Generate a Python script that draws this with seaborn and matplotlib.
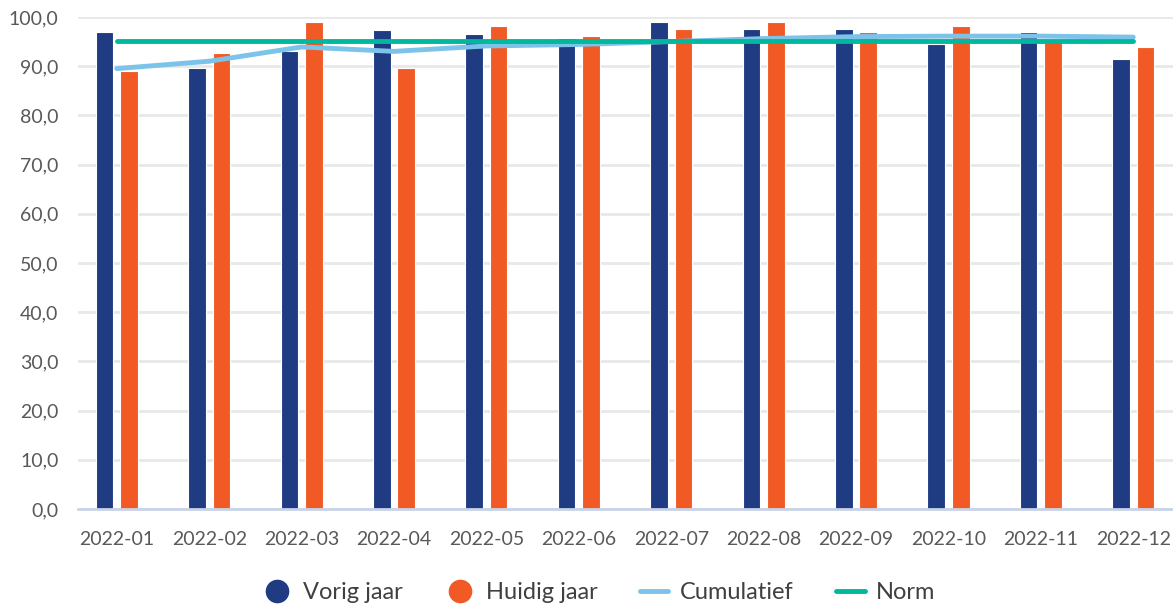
import numpy as np
import pandas as pd
import matplotlib
matplotlib.use("Agg")
import matplotlib.pyplot as plt
from matplotlib.lines import Line2D
import seaborn as sns

maanden = ["2022-01", "2022-02", "2022-03", "2022-04", "2022-05", "2022-06",
           "2022-07", "2022-08", "2022-09", "2022-10", "2022-11", "2022-12"]
vorig_jaar = [96.9, 89.7, 93.0, 97.3, 96.5, 95.7, 98.9, 97.6, 97.6, 94.5, 96.9, 91.4]
huidig_jaar = [89.0, 92.6, 98.9, 89.7, 98.1, 96.1, 97.6, 98.9, 96.9, 98.1, 95.6, 93.8]
cumulatief = [89.5, 91.0, 93.9, 93.0, 94.1, 94.4, 95.0, 95.6, 96.0, 96.1, 96.1, 95.9]
norm = [95.2] * 12
y_ticks = [0, 10, 20, 30, 40, 50, 60, 70, 80, 90, 100]

c_vorig = "#1f3b82"
c_huidig = "#f15a24"
c_cum = "#7cc3ea"
c_norm = "#00b89c"
txt = "#595959"

sns.set_theme(style="white")
plt.rcParams["font.family"] = ["Lato", "DejaVu Sans"]

df = pd.DataFrame({
    "maand": maanden * 2,
    "waarde": vorig_jaar + huidig_jaar,
    "serie": ["Vorig jaar"] * 12 + ["Huidig jaar"] * 12,
})

fig = plt.figure(figsize=(11.73, 6.05), dpi=100)
ax = fig.add_axes([0.0665, 0.1587, 0.9335, 0.8133])

for t in y_ticks:
    ax.axhline(t, color="#e8e8e8", lw=2, zorder=0)

sns.barplot(data=df, x="maand", y="waarde", hue="serie",
            palette={"Vorig jaar": c_vorig, "Huidig jaar": c_huidig},
            saturation=1, width=0.53, gap=0.28, edgecolor="white",
            linewidth=0.8, legend=False, ax=ax, zorder=2)

xs = np.arange(len(maanden))
sns.lineplot(x=xs, y=cumulatief, color=c_cum, lw=3.5, ax=ax, zorder=3)
sns.lineplot(x=xs, y=norm, color=c_norm, lw=3.5, ax=ax, zorder=4)

ax.set_xlim(-0.42, 11.43)
ax.set_ylim(0, 100)
ax.set_yticks(y_ticks)
ax.set_yticklabels([f"{v:.1f}".replace(".", ",") for v in y_ticks])
ax.set_xlabel("")
ax.set_ylabel("")
ax.tick_params(axis="both", length=0, labelsize=14, colors=txt)
ax.tick_params(axis="x", pad=16)
ax.tick_params(axis="y", pad=14)
for s in ["top", "right", "left"]:
    ax.spines[s].set_visible(False)
ax.spines["bottom"].set_color("#c9d3e8")
ax.spines["bottom"].set_linewidth(2)

handles = [
    Line2D([], [], marker="o", ls="", color=c_vorig, markersize=16),
    Line2D([], [], marker="o", ls="", color=c_huidig, markersize=16),
    Line2D([], [], color=c_cum, lw=3.5),
    Line2D([], [], color=c_norm, lw=3.5),
]
labels = ["Vorig jaar", "Huidig jaar", "Cumulatief", "Norm"]
fig.legend(handles, labels, loc="center", bbox_to_anchor=(0.511, 0.02),
           ncol=4, frameon=False, fontsize=17, labelcolor="#404040",
           handlelength=1.2, columnspacing=1.8, handletextpad=0.5)

fig.savefig("out.png", dpi=100)
